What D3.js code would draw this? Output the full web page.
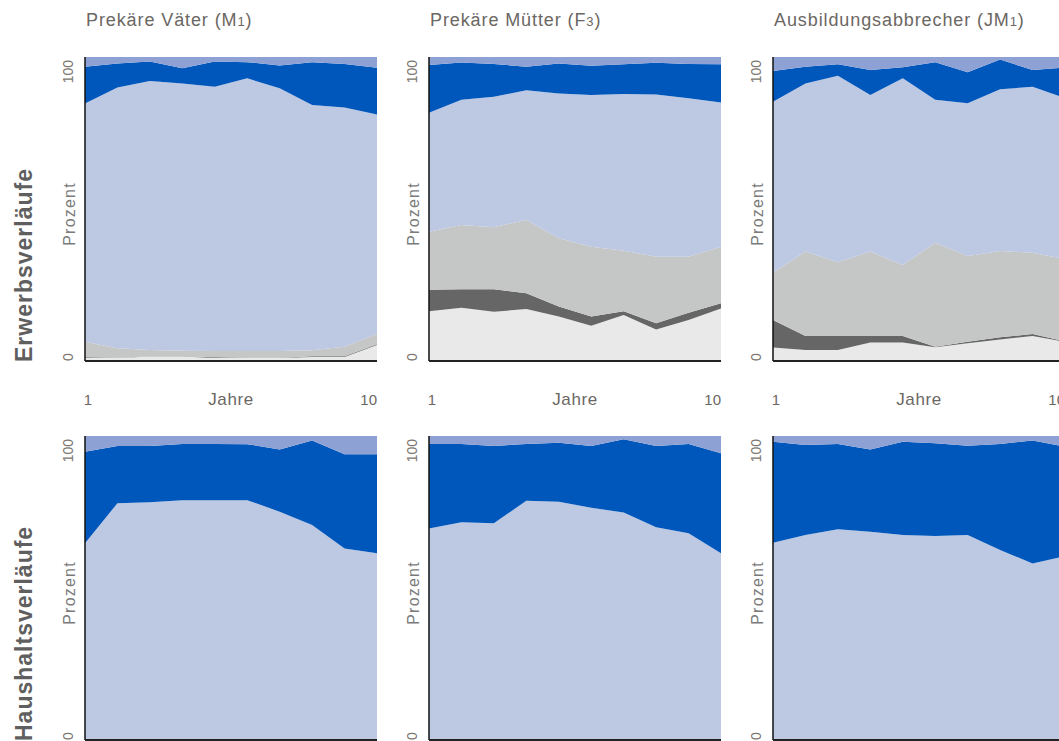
<!DOCTYPE html>
<html>
<head>
<meta charset="utf-8">
<script src="https://cdn.jsdelivr.net/npm/d3@7"></script>
<style>
  body { margin: 0; background: #fff; }
  svg { display: block; font-family: "Liberation Sans", Arial, sans-serif; }
</style>
</head>
<body>
<div id="chart"></div>
<script>
// years on the x axis
const years = [1, 2, 3, 4, 5, 6, 7, 8, 9, 10];

// panel titles (one per column) and row labels
const titles = [["Prekäre Väter (M", "1", ")"], ["Prekäre Mütter (F", "3", ")"], ["Ausbildungsabbrecher (JM", "1", ")"]];
const rowLabels = ["Erwerbsverläufe", "Haushaltsverläufe"];

// stacking order, bottom to top
const keysTop = ["lg", "dg", "mg", "lb", "db", "tb"];
const keysBottom = ["lb", "db", "tb"];
const colors = { lg: "#e9e9e9", dg: "#666666", mg: "#c5c6c6", lb: "#bdc8e3", db: "#0057bb", tb: "#8da1d4" };

// Erwerbsverläufe, shares in percent per year
const vaeterErwerbLg = [1.0, 1.0, 1.5, 1.5, 1.0, 1.0, 1.0, 1.3, 1.3, 5.3];
const vaeterErwerbDg = [0.2, 0.1, 0.1, 0.1, 0.2, 0.1, 0.1, 0.3, 0.3, 0.2];
const vaeterErwerbMg = [5.1, 3.1, 2.0, 1.8, 2.1, 2.2, 2.2, 1.9, 3.1, 3.4];
const vaeterErwerbLb = [78.4, 85.8, 88.5, 87.9, 86.9, 89.7, 86.4, 80.7, 78.7, 72.2];
const vaeterErwerbDb = [12.1, 7.9, 6.4, 5.0, 8.3, 5.3, 7.5, 14.1, 14.3, 15.4];
const vaeterErwerbTb = [3.2, 2.1, 1.5, 3.7, 1.5, 1.7, 2.8, 1.7, 2.3, 3.5];

const muetterErwerbLg = [16.4, 17.5, 16.2, 17.1, 14.6, 11.6, 15.1, 10.4, 13.5, 17.3];
const muetterErwerbDg = [7.0, 6.1, 7.4, 5.2, 3.3, 3.0, 1.3, 2.0, 2.4, 1.7];
const muetterErwerbMg = [19.1, 21.1, 20.4, 24.1, 22.5, 23.0, 19.9, 21.9, 18.4, 18.6];
const muetterErwerbLb = [39.2, 41.2, 42.9, 42.7, 47.6, 49.9, 51.5, 53.4, 52.1, 47.4];
const muetterErwerbDb = [15.7, 12.3, 10.8, 7.7, 9.9, 9.6, 9.8, 10.4, 11.3, 12.6];
const muetterErwerbTb = [2.6, 1.8, 2.3, 3.2, 2.1, 2.9, 2.4, 1.9, 2.3, 2.4];

const abbrecherErwerbLg = [4.4, 3.6, 3.6, 6.1, 6.1, 4.5, 5.8, 7.1, 8.2, 6.3];
const abbrecherErwerbDg = [9.1, 4.6, 4.6, 2.1, 2.1, 0.2, 0.5, 0.7, 0.7, 0.2];
const abbrecherErwerbMg = [15.6, 27.8, 24.3, 27.8, 23.4, 34.2, 28.2, 28.4, 26.7, 27.0];
const abbrecherErwerbLb = [56.2, 55.3, 61.3, 51.5, 61.4, 47.0, 50.3, 53.2, 54.6, 53.0];
const abbrecherErwerbDb = [10.1, 5.5, 3.8, 8.2, 3.6, 12.4, 10.2, 9.8, 5.5, 10.0];
const abbrecherErwerbTb = [4.6, 3.2, 2.4, 4.3, 3.4, 1.7, 5.0, 0.8, 4.3, 3.5];

// Haushaltsverläufe
const vaeterHaushaltLb = [64.7, 77.9, 78.2, 78.9, 78.9, 78.9, 75.1, 70.7, 63.0, 61.4];
const vaeterHaushaltDb = [30.1, 18.8, 18.5, 18.5, 18.5, 18.4, 20.5, 27.8, 31.0, 32.6];
const vaeterHaushaltTb = [5.2, 3.3, 3.3, 2.6, 2.6, 2.7, 4.4, 1.5, 6.0, 6.0];

const muetterHaushaltLb = [69.6, 71.6, 71.3, 78.7, 78.4, 76.4, 74.8, 70.0, 68.0, 61.4];
const muetterHaushaltDb = [27.8, 25.8, 25.4, 18.7, 19.4, 20.3, 24.1, 26.7, 29.4, 32.9];
const muetterHaushaltTb = [2.6, 2.6, 3.3, 2.6, 2.2, 3.3, 1.1, 3.3, 2.6, 5.7];

const abbrecherHaushaltLb = [64.9, 67.4, 69.3, 68.5, 67.4, 67.1, 67.4, 62.5, 58.1, 60.5];
const abbrecherHaushaltDb = [33.2, 29.6, 28.1, 27.1, 30.7, 30.5, 29.4, 34.9, 40.4, 36.0];
const abbrecherHaushaltTb = [1.9, 3.0, 2.6, 4.4, 1.9, 2.4, 3.2, 2.6, 1.5, 3.5];

// build rows of {year, key: value} for d3.stack
function rows(series) {
  return years.map((y, i) => {
    const r = { year: y };
    Object.keys(series).forEach(k => { r[k] = series[k][i]; });
    return r;
  });
}

const panels = [
  [
    rows({ lg: vaeterErwerbLg, dg: vaeterErwerbDg, mg: vaeterErwerbMg, lb: vaeterErwerbLb, db: vaeterErwerbDb, tb: vaeterErwerbTb }),
    rows({ lg: muetterErwerbLg, dg: muetterErwerbDg, mg: muetterErwerbMg, lb: muetterErwerbLb, db: muetterErwerbDb, tb: muetterErwerbTb }),
    rows({ lg: abbrecherErwerbLg, dg: abbrecherErwerbDg, mg: abbrecherErwerbMg, lb: abbrecherErwerbLb, db: abbrecherErwerbDb, tb: abbrecherErwerbTb })
  ],
  [
    rows({ lb: vaeterHaushaltLb, db: vaeterHaushaltDb, tb: vaeterHaushaltTb }),
    rows({ lb: muetterHaushaltLb, db: muetterHaushaltDb, tb: muetterHaushaltTb }),
    rows({ lb: abbrecherHaushaltLb, db: abbrecherHaushaltDb, tb: abbrecherHaushaltTb })
  ]
];

const W = 1059, H = 741;
const pw = 292, ph = 304;
const colX = [85, 429, 773];
const rowY = [57, 436];

const svg = d3.select("#chart").append("svg").attr("width", W).attr("height", H);

const x = d3.scaleLinear().domain([1, 10]).range([0, pw]);
const y = d3.scaleLinear().domain([0, 100]).range([ph, 0]);

const area = d3.area()
  .x(d => x(d.data.year))
  .y0(d => y(d[0]))
  .y1(d => y(d[1]));

// column titles
titles.forEach((t, c) => {
  const tx = svg.append("text")
    .attr("x", colX[c] + 1).attr("y", 26)
    .attr("fill", "#6b6763")
    .style("font-size", "18px")
    .style("letter-spacing", "0.9px");
  tx.append("tspan").text(t[0]);
  tx.append("tspan").style("font-size", "13px").text(t[1]);
  tx.append("tspan").text(t[2]);
});

panels.forEach((row, r) => {
  const keys = r === 0 ? keysTop : keysBottom;
  const stack = d3.stack().keys(keys);

  // row label
  svg.append("text")
    .attr("transform", `translate(32,${rowY[r] + ph + 1}) rotate(-90)`)
    .attr("fill", "#5f5f5f")
    .style("font-size", "23px")
    .style("font-weight", "bold")
    .style("letter-spacing", "1px")
    .text(rowLabels[r]);

  row.forEach((data, c) => {
    const g = svg.append("g").attr("transform", `translate(${colX[c]},${rowY[r]})`);

    g.selectAll("path.layer")
      .data(stack(data))
      .join("path")
      .attr("class", "layer")
      .attr("fill", d => colors[d.key])
      .attr("d", area);

    // axis lines
    g.append("line").attr("x1", 0).attr("x2", 0).attr("y1", 0).attr("y2", ph)
      .attr("stroke", "#111").attr("stroke-width", 1.5);
    g.append("line").attr("x1", 0).attr("x2", pw).attr("y1", ph).attr("y2", ph)
      .attr("stroke", "#222").attr("stroke-width", 2);

    // y tick labels
    g.append("text")
      .attr("transform", `translate(-12,${y(0)}) rotate(-90)`)
      .attr("fill", "#7d7670").style("font-size", "14px")
      .text("0");
    g.append("text")
      .attr("transform", `translate(-12,${y(100) + 3}) rotate(-90)`)
      .attr("text-anchor", "end")
      .attr("fill", "#7d7670").style("font-size", "14px")
      .text("100");
    g.append("text")
      .attr("transform", `translate(-10,${ph / 2 + 5}) rotate(-90)`)
      .attr("text-anchor", "middle")
      .attr("fill", "#7a7a7a").style("font-size", "16px")
      .style("letter-spacing", "1.2px")
      .text("Prozent");

    // x labels (only the top row's fit in the picture)
    if (r === 0) {
      const ly = ph + 44;
      g.append("text").attr("x", x(1) + 3).attr("y", ly).attr("text-anchor", "middle")
        .attr("fill", "#6b6763").style("font-size", "15px").text("1");
      g.append("text").attr("x", x(10)).attr("y", ly).attr("text-anchor", "end")
        .attr("fill", "#6b6763").style("font-size", "15px").text("10");
      g.append("text").attr("x", (x(1) + x(10)) / 2).attr("y", ly).attr("text-anchor", "middle")
        .attr("fill", "#6b6763").style("font-size", "17px").style("letter-spacing", "0.6px").text("Jahre");
    }
  });
});
</script>
</body>
</html>
